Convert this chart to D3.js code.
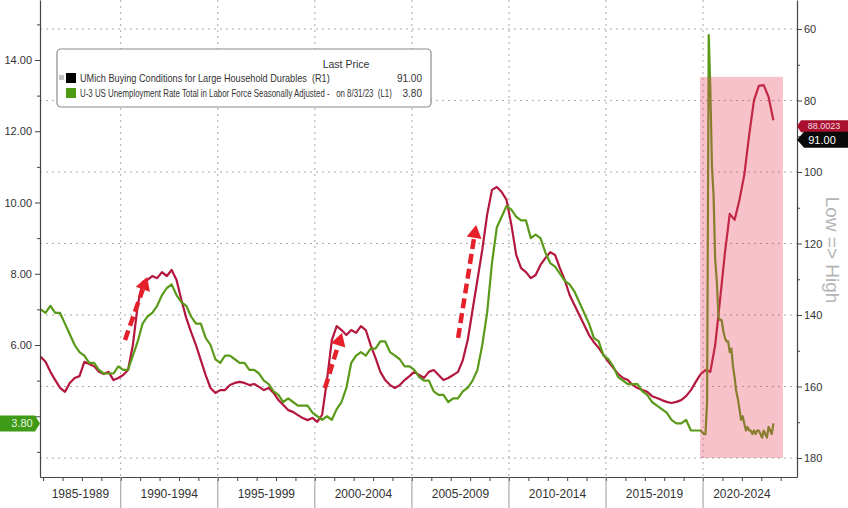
<!DOCTYPE html>
<html><head><meta charset="utf-8">
<script src="https://cdn.jsdelivr.net/npm/d3@7"></script>
<style>
body{margin:0;background:#fff;}
svg text{font-family:"Liberation Sans",Arial,sans-serif;}
</style>
</head><body>
<svg id="chart" width="848" height="508"></svg>
<script>
// ---------------- DATA ----------------
const periodLabels = ["1985-1989","1990-1994","1995-1999","2000-2004","2005-2009","2010-2014","2015-2019","2020-2024"];
const periodStarts = [1985,1990,1995,2000,2005,2010,2015,2020];
const leftMajorTicks = [4,6,8,10,12,14];
const leftLabelTicks = [6,8,10,12,14];   // 4.00 is covered by the last-value badge
const leftMinorTicks = [3,5,7,9,11,13,15];
const rightMajorTicks = [60,80,100,120,140,160,180];
const rightMinorTicks = [70,90,110,130,150,170];

// U-3 unemployment rate (%), quarterly from 1985 Q4 to 2019 Q4 (left axis)
const unempQuarterlyStart = 1985.75;
const unempQuarterly = [
  7.0,
  6.9,7.1,6.9,6.9,  6.6,6.3,6.0,5.8,  5.7,5.5,5.5,5.3,  5.2,5.2,5.2,5.4,
  5.3,5.3,5.7,6.1,  6.6,6.8,6.9,7.1,  7.4,7.6,7.7,7.4,  7.2,7.1,6.8,6.6,
  6.6,6.2,6.0,5.6,  5.5,5.7,5.7,5.6,  5.5,5.5,5.3,5.3,  5.2,5.0,4.9,4.7,
  4.6,4.4,4.5,4.4,  4.3,4.3,4.3,4.1,  4.0,3.9,4.0,3.9,  4.2,4.4,4.8,5.5,
  5.7,5.8,5.7,5.9,  5.9,6.1,6.1,5.8,  5.7,5.6,5.4,5.4,  5.3,5.1,5.0,5.0,
  4.7,4.6,4.6,4.4,  4.5,4.5,4.7,4.8,  5.0,5.3,6.0,6.9,  8.3,9.3,9.6,9.9,
  9.8,9.6,9.5,9.5,  9.0,9.1,9.0,8.6,  8.3,8.2,8.0,7.8,  7.7,7.5,7.2,6.9,
  6.6,6.2,6.1,5.7,  5.6,5.4,5.1,5.0,  4.9,4.9,4.9,4.7,  4.6,4.4,4.3,4.2,
  4.1,3.9,3.8,3.8,  3.9,3.6,3.6,3.6
];
// U-3 unemployment rate (%), monthly Jan 2020 .. Aug 2023
const unempMonthlyStart = 2020;
const unempMonthly = [
  3.5,3.5,4.4,14.7,13.2,11.0,10.2,8.4,7.8,6.8,6.7,6.7,
  6.4,6.2,6.1,6.1,5.8,5.9,5.4,5.1,4.7,4.5,4.2,3.9,
  4.0,3.8,3.6,3.7,3.6,3.6,3.5,3.6,3.5,3.6,3.6,3.5,
  3.4,3.6,3.5,3.4,3.7,3.6,3.5,3.8
];
// UMich buying conditions for large household durables (right axis, inverted), quarterly 1985 Q4 .. 2023 Q3
const umichQuarterlyStart = 1985.75;
const umichQuarterly = [
  151.7,
  153.1,155.9,158.2,160.4,  161.5,159.0,157.6,157.1,  153.1,153.7,154.3,155.9,  156.5,155.9,158.2,157.6,
  156.8,155.4,148.4,137.2,  130.8,130.2,129.1,129.7,  128.0,129.1,127.4,130.2,  135.8,140.8,144.8,148.4,
  152.6,156.8,160.4,161.8,  161.0,161.0,159.6,159.0,  158.7,159.0,159.6,159.3,  160.1,161.0,160.4,161.8,
  163.8,165.2,166.6,167.1,  168.0,168.8,169.4,168.8,  169.9,167.9,158.2,147.0,  143.1,144.2,145.6,144.2,
  145.0,143.1,144.2,148.4,  152.0,155.9,158.2,159.6,  160.4,159.6,158.2,157.1,  155.9,156.8,157.6,155.9,
  155.4,156.8,158.2,157.6,  156.8,155.9,152.6,147.0,  138.6,130.2,121.8,112.0,  105.0,104.2,105.6,107.8,
  114.8,123.2,126.9,128.0,  129.7,128.8,126.0,124.1,  122.4,123.2,126.9,130.2,  134.4,137.2,140.0,142.8,
  145.6,147.6,149.2,151.2,  153.1,154.8,156.5,157.6,  158.2,159.6,160.4,161.0,  161.5,162.7,163.2,163.8,
  164.3,164.6,164.3,163.8,  162.7,161.0,158.7,156.5,  155.4,155.9,148.4,135.8,  122.7,111.7,113.4,107.8,
  100.8,89.7,79.9,75.9,  75.7,79.0,85.5
];
const lastUnemp = 3.80;
const lastUmich = 91.00;
const redTagValue = 87.2;
const redTagText = "88.0023";
const shadeYears = [2019.85, 2024.12];
const shadeRight = [73.4, 180];
const arrowsData = [
  {from:[1990.22,6.14], to:[1991.36,7.91]},
  {from:[2000.52,4.79], to:[2001.40,6.34]},
  {from:[2007.38,6.20], to:[2008.31,9.37]}
];
const legendRows = [
  {label:"UMich Buying Conditions for Large Household Durables  (R1)", value:"91.00", color:"#000", extra:true},
  {label:"U-3 US Unemployment Rate Total in Labor Force Seasonally Adjusted -   on 8/31/23  (L1)", value:"3.80", color:"#4e9a12", extra:false}
];

// ---------------- LAYOUT ----------------
const W = 848, H = 508;
const plot = {left:40, right:797, top:0, bottom:477};
const svg = d3.select("#chart");

const x = d3.scaleLinear().domain([1985.84, 2024.84]).range([plot.left, plot.right]);
const yL = d3.scaleLinear().domain([2.295, 15.684]).range([plot.bottom, plot.top]);
const yR = d3.scaleLinear().domain([51.89, 185.31]).range([plot.top, plot.bottom]);

const unempSeries = unempQuarterly.map((v,i)=>({t:unempQuarterlyStart + 0.25*i + 0.125, v}))
  .concat(unempMonthly.map((v,i)=>({t:unempMonthlyStart + (i+0.5)/12, v})));
const umichSeries = umichQuarterly.map((v,i)=>({t:umichQuarterlyStart + 0.25*i + 0.125, v}));

svg.append("defs").append("clipPath").attr("id","clip")
  .append("rect").attr("x",plot.left).attr("y",plot.top)
  .attr("width",plot.right-plot.left).attr("height",plot.bottom-plot.top);

// gridlines
const grid = svg.append("g");
grid.selectAll("line.h").data(rightMajorTicks).join("line")
  .attr("x1",plot.left).attr("x2",plot.right)
  .attr("y1",d=>yR(d)).attr("y2",d=>yR(d))
  .attr("stroke","#a8a8a8").attr("stroke-width",1).attr("stroke-dasharray","2,4");
grid.selectAll("line.v").data(periodStarts.filter(d=>x(d)>plot.left+2)).join("line")
  .attr("x1",d=>x(d)).attr("x2",d=>x(d))
  .attr("y1",plot.top).attr("y2",plot.bottom)
  .attr("stroke","#a8a8a8").attr("stroke-width",1).attr("stroke-dasharray","2,4");

// lines
const lines = svg.append("g").attr("clip-path","url(#clip)");
lines.append("path").datum(umichSeries)
  .attr("fill","none").attr("stroke","#b3173d").attr("stroke-width",2.2).attr("stroke-linejoin","round")
  .attr("d", d3.line().x(d=>x(d.t)).y(d=>yR(d.v)));
lines.append("path").datum(unempSeries)
  .attr("fill","none").attr("stroke","#5a9a1a").attr("stroke-width",2.2).attr("stroke-linejoin","round")
  .attr("d", d3.line().x(d=>x(d.t)).y(d=>yL(d.v)));

// shaded region (overlay)
svg.append("rect")
  .attr("x",x(shadeYears[0])).attr("width",x(shadeYears[1])-x(shadeYears[0]))
  .attr("y",yR(shadeRight[0])).attr("height",yR(shadeRight[1])-yR(shadeRight[0]))
  .attr("fill","#e8455a").attr("opacity",0.33);

// axes
const axisColor = "#444";
function styleAxis(g){
  g.selectAll("path.domain").attr("stroke",axisColor).attr("stroke-width",1.2);
  g.selectAll(".tick line").attr("stroke",axisColor);
  g.selectAll("text").attr("fill","#333").style("font-family","'Liberation Sans',Arial,sans-serif");
}
const gL = svg.append("g").attr("transform",`translate(${plot.left},0)`)
  .call(d3.axisLeft(yL).tickValues(leftMajorTicks).tickSize(5).tickSizeOuter(0).tickPadding(3)
    .tickFormat(d=>leftLabelTicks.includes(d) ? d3.format(".2f")(d) : ""));
styleAxis(gL); gL.selectAll("text").style("font-size","11px");
const gLm = svg.append("g").attr("transform",`translate(${plot.left},0)`)
  .call(d3.axisLeft(yL).tickValues(leftMinorTicks).tickSize(3).tickFormat(""));
styleAxis(gLm); gLm.select("path.domain").remove();
const gR = svg.append("g").attr("transform",`translate(${plot.right},0)`)
  .call(d3.axisRight(yR).tickValues(rightMajorTicks).tickSize(5).tickSizeOuter(0).tickPadding(2));
styleAxis(gR); gR.selectAll("text").style("font-size","11px");
const gRm = svg.append("g").attr("transform",`translate(${plot.right},0)`)
  .call(d3.axisRight(yR).tickValues(rightMinorTicks).tickSize(3).tickFormat(""));
styleAxis(gRm); gRm.select("path.domain").remove();
const years = d3.range(1986, 2025);
const gB = svg.append("g").attr("transform",`translate(0,${plot.bottom})`)
  .call(d3.axisBottom(x).tickValues(years).tickSize(4).tickSizeOuter(0).tickFormat(""));
styleAxis(gB);
svg.append("g").selectAll("line").data(periodStarts.filter(d=>x(d)>plot.left+2)).join("line")
  .attr("x1",d=>x(d)).attr("x2",d=>x(d)).attr("y1",plot.bottom).attr("y2",H)
  .attr("stroke","#999").attr("stroke-width",1);
svg.append("g").selectAll("text").data(periodStarts).join("text")
  .attr("x",(d)=>{
    const a = Math.max(x(d), plot.left);
    const b = x(Math.min(d+5, years[years.length-1]));
    return (a+b)/2;
  })
  .attr("y",498).attr("text-anchor","middle").attr("fill","#333")
  .style("font-size","12px").text((d,i)=>periodLabels[i]);

// arrows
const arrowG = svg.append("g");
arrowsData.forEach(a=>{
  const x0 = x(a.from[0]), y0 = yL(a.from[1]);
  const x1 = x(a.to[0]), y1 = yL(a.to[1]);
  const dx = x1-x0, dy = y1-y0, len = Math.hypot(dx,dy);
  const ux = dx/len, uy = dy/len;
  const headL = 13, headW = 7.5;
  const bx = x1 - ux*headL, by = y1 - uy*headL;
  arrowG.append("line").attr("x1",x0).attr("y1",y0).attr("x2",bx).attr("y2",by)
    .attr("stroke","#e5202a").attr("stroke-width",4.5).attr("stroke-dasharray","10,5");
  arrowG.append("polygon")
    .attr("points",[[x1,y1],[bx - uy*headW, by + ux*headW],[bx + uy*headW, by - ux*headW]].map(p=>p.join(",")).join(" "))
    .attr("fill","#e5202a");
});

// legend
const lg = svg.append("g");
lg.append("rect").attr("x",57).attr("y",49).attr("width",374).attr("height",58).attr("rx",4)
  .attr("fill","#fff").attr("stroke","#8a8a8a").attr("stroke-width",1.2);
lg.append("text").attr("x",346).attr("y",68).attr("text-anchor","middle").attr("fill","#333")
  .style("font-size","10.5px").text("Last Price");
const labelWidths = [250, 312];
legendRows.forEach((r,i)=>{
  const cy = 78 + i*15;
  if(r.extra){
    lg.append("rect").attr("x",59).attr("y",cy-3).attr("width",5).attr("height",5).attr("fill","#c4c4c4");
  }
  lg.append("rect").attr("x",66).attr("y",cy-5).attr("width",10).attr("height",10).attr("fill",r.color);
  const t = lg.append("text").attr("x",0).attr("y",0).attr("fill","#333")
    .style("font-size","10px").style("white-space","pre")
    .text(r.label);
  const natural = t.node().getComputedTextLength();
  const s = Math.min(1, labelWidths[i]/natural);
  t.attr("transform",`translate(80,${cy+3.5}) scale(${s},1)`);
  lg.append("text").attr("x",422).attr("y",cy+3.5).attr("text-anchor","end").attr("fill","#333")
    .style("font-size","10px").text(r.value);
});

// left badge (last unemployment value)
const by0 = yL(lastUnemp);
svg.append("polygon")
  .attr("points",[[0,by0-8],[35,by0-8],[40,by0],[35,by0+8],[0,by0+8]].map(p=>p.join(",")).join(" "))
  .attr("fill","#3f9a17");
svg.append("text").attr("x",22).attr("y",by0+4).attr("text-anchor","middle").attr("fill","#e8f5e0")
  .style("font-size","11px").text(lastUnemp.toFixed(2));

// right tags
const ry1 = yR(redTagValue);
svg.append("polygon")
  .attr("points",[[801,ry1-6],[848,ry1-6],[848,ry1+6],[801,ry1+6],[797,ry1]].map(p=>p.join(",")).join(" "))
  .attr("fill","#a8102e");
svg.append("text").attr("x",824).attr("y",ry1+3).attr("text-anchor","middle").attr("fill","#f5dce0")
  .style("font-size","9px").text(redTagText);
const ry2 = yR(lastUmich);
svg.append("polygon")
  .attr("points",[[804,ry2-8],[848,ry2-8],[848,ry2+8],[804,ry2+8],[797,ry2]].map(p=>p.join(",")).join(" "))
  .attr("fill","#0a0a0a");
svg.append("text").attr("x",822).attr("y",ry2+4).attr("text-anchor","middle").attr("fill","#fff")
  .style("font-size","11px").text(lastUmich.toFixed(2));

// side note
svg.append("text").attr("transform",`translate(826,250) rotate(90)`)
  .attr("text-anchor","middle").attr("fill","#b4b4b4")
  .style("font-size","19px").text("Low => High");
</script>
</body></html>
